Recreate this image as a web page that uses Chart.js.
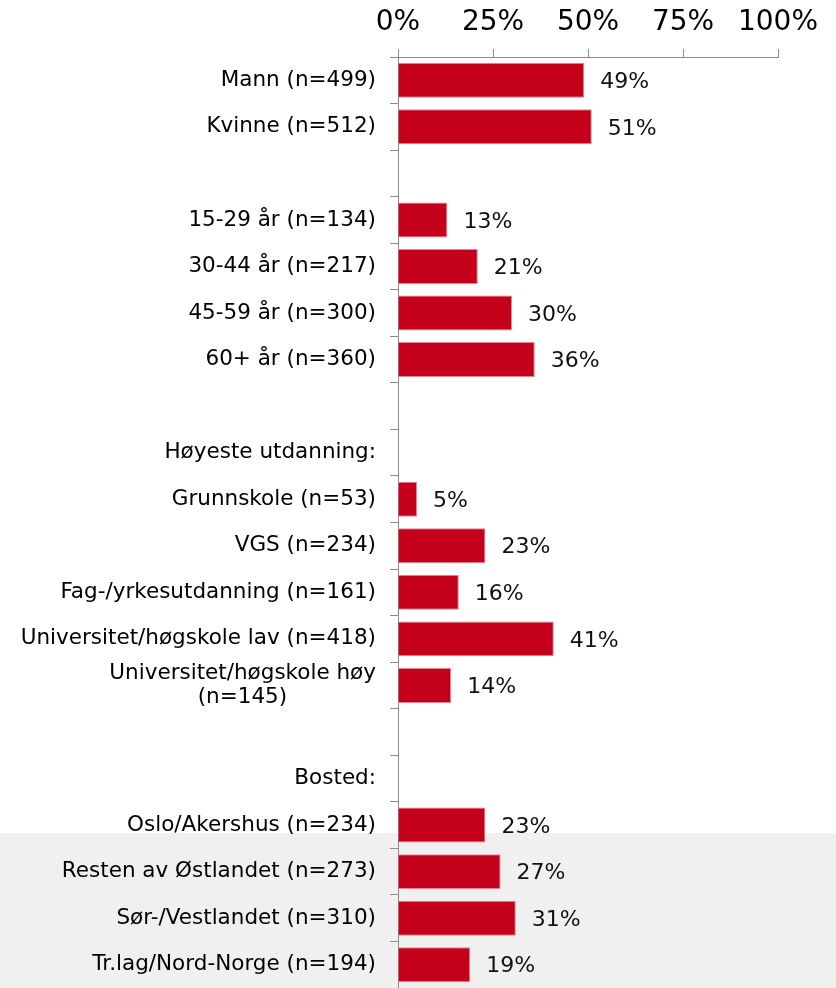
<!DOCTYPE html>
<html>
<head>
<meta charset="utf-8">
<script src="https://cdn.jsdelivr.net/npm/chart.js@4/dist/chart.umd.min.js"></script>
<style>
  html, body { margin: 0; padding: 0; background: #fff; }
  #wrap { position: relative; width: 836px; height: 988px; }
  #shade { position: absolute; left: 0; top: 833px; width: 836px; height: 155px; background: #f0f0f0; }
  #chart { position: absolute; left: 0; top: 0; }
</style>
</head>
<body>
<div id="wrap">
  <div id="shade"></div>
  <canvas id="chart" width="836" height="988"></canvas>
</div>
<script>
const categories = [
    'Mann (n=499)',
    'Kvinne (n=512)',
    '',
    '15-29 år (n=134)',
    '30-44 år (n=217)',
    '45-59 år (n=300)',
    '60+ år (n=360)',
    '',
    'Høyeste utdanning:',
    'Grunnskole (n=53)',
    'VGS (n=234)',
    'Fag-/yrkesutdanning (n=161)',
    'Universitet/høgskole lav (n=418)',
    ['Universitet/høgskole høy', '(n=145)' + '\u00a0'.repeat(13)],
    '',
    'Bosted:',
    'Oslo/Akershus (n=234)',
    'Resten av Østlandet (n=273)',
    'Sør-/Vestlandet (n=310)',
    'Tr.lag/Nord-Norge (n=194)'
];

const values = [49, 51, null, 13, 21, 30, 36, null, null, 5, 23, 16, 41, 14, null, null, 23, 27, 31, 19];

const xTicks = [0, 25, 50, 75, 100];

const font = '"DejaVu Sans", Verdana, sans-serif';
const axisGrey = '#8c8c8c';

// percent labels to the right of each bar
const valueLabels = {
    id: 'valueLabels',
    afterDatasetsDraw(chart) {
        const ctx = chart.ctx;
        const meta = chart.getDatasetMeta(0);
        ctx.save();
        ctx.font = '22px ' + font;
        ctx.fillStyle = '#111';
        ctx.textAlign = 'left';
        ctx.textBaseline = 'middle';
        meta.data.forEach((bar, i) => {
            const v = values[i];
            if (v === null) return;
            ctx.fillText(v + '%', bar.x + 16, bar.y + 2);
        });
        ctx.restore();
    }
};

const chart = new Chart(document.getElementById('chart').getContext('2d'), {
    type: 'bar',
    data: {
        labels: categories,
        datasets: [{
            data: values,
            backgroundColor: '#c5001a',
            borderColor: '#e58592',
            borderWidth: 1,
            barPercentage: 0.75,
            categoryPercentage: 1
        }]
    },
    options: {
        indexAxis: 'y',
        responsive: false,
        animation: false,
        layout: { padding: { left: 0, right: 58, top: 0, bottom: 0 } },
        plugins: {
            legend: { display: false },
            tooltip: { enabled: false }
        },
        scales: {
            x: {
                position: 'top',
                min: 0,
                max: 100,
                afterBuildTicks: (axis) => { axis.ticks = xTicks.map(v => ({ value: v })); },
                afterFit: (axis) => { axis.height = 57; axis.paddingLeft = 0; axis.paddingRight = 0; },
                grid: { drawOnChartArea: false, tickLength: 8, color: axisGrey },
                border: { color: axisGrey, width: 1 },
                ticks: {
                    color: '#000',
                    padding: 9,
                    font: { family: font, size: 28 },
                    callback: (v) => v + '%'
                }
            },
            y: {
                afterFit: (axis) => { axis.width = 398; axis.paddingTop = 0; axis.paddingBottom = 0; },
                grid: { offset: true, drawOnChartArea: false, tickLength: 8, color: axisGrey },
                border: { color: axisGrey, width: 1 },
                ticks: {
                    color: '#000',
                    padding: 14,
                    autoSkip: false,
                    font: { family: font, size: 21.5, lineHeight: 1.12 }
                }
            }
        }
    },
    plugins: [valueLabels]
});
</script>
</body>
</html>
